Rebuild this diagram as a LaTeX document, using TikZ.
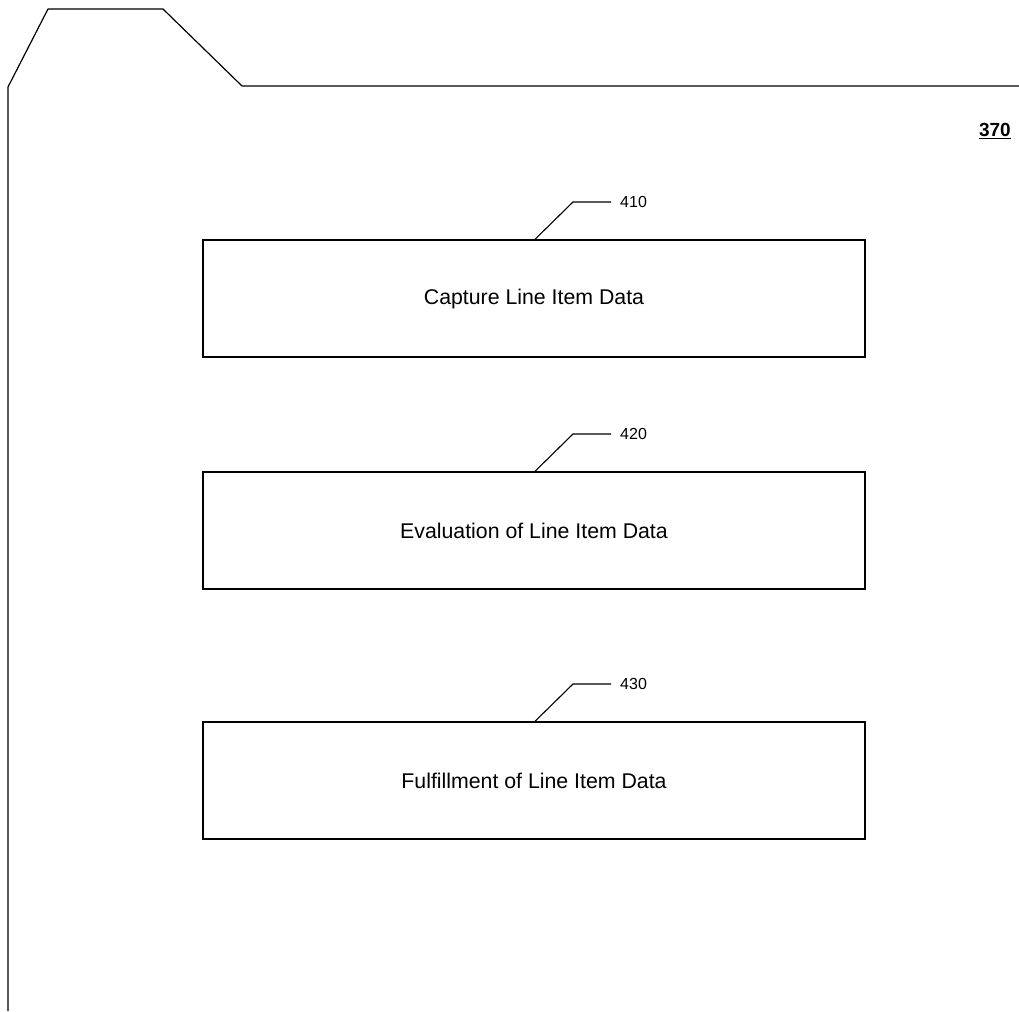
\documentclass[tikz,border=0pt]{standalone}
\usepackage{fontspec}
\setmainfont{Liberation Sans}
\begin{document}
\begin{tikzpicture}[x=1pt,y=-1pt,
  stepbox/.style={draw,line width=1.4pt,minimum width=662pt,minimum height=117pt,inner sep=0pt,font=\fontsize{21.3}{24}\selectfont},
  leader/.style={line width=1.1pt},
  reflabel/.style={anchor=west,inner sep=0pt,font=\fontsize{16}{18}\selectfont},
  outline/.style={line width=1.2pt,line join=round}]
\useasboundingbox (0,0) rectangle (1019,1011);
% folder outline
\coordinate (f1) at (8,1011);
\coordinate (f2) at (8,87);
\coordinate (f3) at (48,9);
\coordinate (f4) at (163,9);
\coordinate (f5) at (242,86);
\coordinate (f6) at (1019,86);
\draw[outline] (f1) -- (f2) -- (f3) -- (f4) -- (f5) -- (f6);
% figure number
\node[anchor=base east,inner sep=0pt,font=\fontsize{19}{22}\selectfont\bfseries] (fig) at (1011,137) {\underline{370}};
% boxes
\node[stepbox] (b410) at (534,298.5) {Capture Line Item Data};
\node[stepbox] (b420) at (534,530.5) {Evaluation of Line Item Data};
\node[stepbox] (b430) at (534,780.5) {Fulfillment of Line Item Data};
% reference labels
\node[reflabel] (l410) at (620,202) {410};
\node[reflabel] (l420) at (620,434) {420};
\node[reflabel] (l430) at (620,684) {430};
\coordinate (k410) at (573,202);
\coordinate (k420) at (573,434);
\coordinate (k430) at (573,684);
\draw[leader] (b410.north -| 535,0) -- (k410) -- ([xshift=-9pt]l410.west);
\draw[leader] (b420.north -| 535,0) -- (k420) -- ([xshift=-9pt]l420.west);
\draw[leader] (b430.north -| 535,0) -- (k430) -- ([xshift=-9pt]l430.west);
\end{tikzpicture}
\end{document}
